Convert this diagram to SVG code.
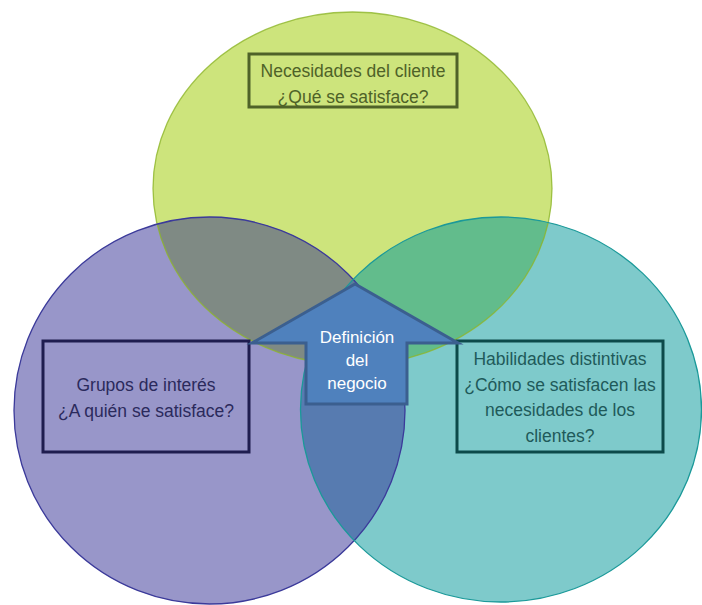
<svg xmlns="http://www.w3.org/2000/svg" width="702" height="605" viewBox="0 0 702 605">
<style>
.lbl{font-family:"Liberation Sans",Arial,sans-serif;font-size:17.5px;text-anchor:middle}
.box{fill:none;stroke-width:3}
</style>
<defs>
<ellipse id="eG" cx="352.5" cy="188.5" rx="199.5" ry="176.5"/>
<ellipse id="eP" cx="209.5" cy="410.5" rx="195.5" ry="193.5"/>
<ellipse id="eT" cx="501" cy="409.5" rx="200.5" ry="192.5"/>
<clipPath id="cG"><use href="#eG"/></clipPath>
<clipPath id="cP"><use href="#eP"/></clipPath>
<clipPath id="cT"><use href="#eT"/></clipPath>
</defs>
<rect width="702" height="605" fill="#ffffff"/>
<g id="circles">
<use href="#eG" fill="#cde47c"/>
<use href="#eP" fill="#9896c9"/>
<use href="#eT" fill="#7ecacb"/>
<g clip-path="url(#cG)"><use href="#eP" fill="#7f8a84"/></g>
<g clip-path="url(#cG)"><use href="#eT" fill="#62bc8c"/></g>
<g clip-path="url(#cP)"><use href="#eT" fill="#577bb0"/></g>
<g clip-path="url(#cG)"><g clip-path="url(#cP)"><use href="#eT" fill="#5a7d9a"/></g></g>
<use href="#eG" fill="none" stroke="#8db52a" stroke-width="1.3" stroke-opacity="0.8"/>
<use href="#eP" fill="none" stroke="#3b3a9a" stroke-width="1.3"/>
<use href="#eT" fill="none" stroke="#1b9999" stroke-width="1.3"/>
</g>
<g id="node-necesidades">
<rect class="box" x="249" y="54" width="208" height="53" stroke="#4f6228"/>
<text class="lbl" fill="#4f6228"><tspan x="353" y="77">Necesidades del cliente</tspan><tspan x="353" y="103">¿Qué se satisface?</tspan></text>
</g>
<g id="node-grupos">
<rect class="box" x="43" y="341" width="206" height="111" stroke="#1f1d4f"/>
<text class="lbl" fill="#2b2a5c"><tspan x="146" y="391">Grupos de interés</tspan><tspan x="146" y="417">¿A quién se satisface?</tspan></text>
</g>
<g id="node-habilidades">
<rect class="box" x="457" y="341" width="206" height="111" stroke="#0c4a4a"/>
<text class="lbl" fill="#1f5a5a"><tspan x="560" y="365">Habilidades distintivas</tspan><tspan x="560" y="391">¿Cómo se satisfacen las</tspan><tspan x="560" y="416">necesidades de los</tspan><tspan x="560" y="442">clientes?</tspan></text>
</g>
<g id="node-definicion">
<path d="M355,284 L252,343 L306,343 L306,404 L407,404 L407,343 L458,343 Z" fill="#4f81bd" stroke="#3b5f8f" stroke-width="3" stroke-linejoin="miter"/>
<text class="lbl" fill="#ffffff" style="font-size:17px"><tspan x="357" y="343">Definición</tspan><tspan x="357" y="366">del</tspan><tspan x="357" y="389">negocio</tspan></text>
</g>
<g id="connectors"></g>
</svg>
